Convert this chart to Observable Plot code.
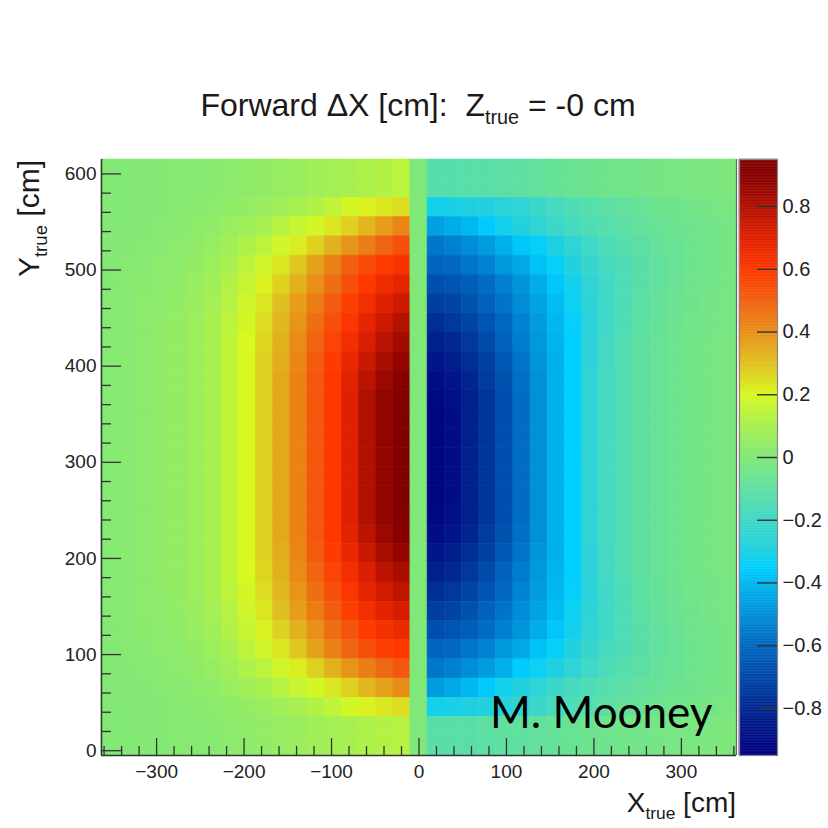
<!DOCTYPE html>
<html><head><meta charset="utf-8">
<script src="https://cdn.jsdelivr.net/npm/d3@7"></script>
<script src="https://cdn.jsdelivr.net/npm/@observablehq/plot@0.6"></script>
<style>
html,body{margin:0;padding:0;background:#fff;}
#wrap{position:relative;width:828px;height:828px;overflow:hidden;font-family:"Liberation Sans",Arial,sans-serif;color:#1a1a1a;}
#wrap svg{position:absolute;overflow:visible;}
.t{position:absolute;white-space:nowrap;line-height:1;}
.sub{font-size:62%;position:relative;top:0.42em;}
</style></head><body><div id="wrap"></div>
<script>
// ---- data ----
const xLimits = [-363, 363];   // cm, histogram x range (37 bins)
const yLimits = [-5, 615];     // cm, histogram y range (31 bins)
const nXBins = 37;
const yRowCenters = [605,585,565,545,525,505,485,465,445,425,405,385,365,345,325,305,285,265,245,225,205,185,165,145,125,105,85,65,45,25,5];

// left half (x < 0), 18 columns from x=-353 to x=-20, rows top -> bottom
const dxLeft = [
 [0.005,0.005,0.01,0.01,0.015,0.015,0.02,0.03,0.035,0.045,0.055,0.065,0.08,0.09,0.1,0.11,0.12,0.14],
 [0.005,0.005,0.01,0.01,0.015,0.015,0.02,0.03,0.035,0.045,0.055,0.065,0.08,0.09,0.1,0.11,0.12,0.14],
 [0.005,0.005,0.01,0.01,0.015,0.02,0.03,0.04,0.05,0.065,0.08,0.1,0.12,0.15,0.19,0.21,0.23,0.25],
 [0.005,0.01,0.01,0.015,0.02,0.03,0.04,0.06,0.08,0.1,0.13,0.16,0.19,0.23,0.27,0.32,0.37,0.42],
 [0.01,0.01,0.015,0.02,0.03,0.04,0.055,0.08,0.11,0.14,0.18,0.22,0.27,0.33,0.39,0.44,0.49,0.54],
 [0.01,0.015,0.02,0.03,0.035,0.05,0.07,0.1,0.14,0.18,0.23,0.29,0.36,0.43,0.5,0.55,0.59,0.62],
 [0.01,0.015,0.025,0.03,0.04,0.06,0.08,0.12,0.16,0.21,0.27,0.33,0.4,0.47,0.54,0.6,0.65,0.68],
 [0.015,0.02,0.03,0.035,0.045,0.065,0.09,0.13,0.18,0.23,0.3,0.37,0.44,0.51,0.58,0.64,0.7,0.74],
 [0.015,0.02,0.03,0.04,0.05,0.07,0.1,0.14,0.19,0.25,0.32,0.39,0.47,0.54,0.61,0.68,0.74,0.79],
 [0.015,0.02,0.03,0.04,0.05,0.07,0.1,0.15,0.2,0.26,0.33,0.41,0.49,0.57,0.64,0.71,0.78,0.83],
 [0.015,0.02,0.03,0.04,0.05,0.07,0.1,0.15,0.2,0.27,0.34,0.42,0.51,0.59,0.67,0.75,0.82,0.87],
 [0.015,0.02,0.03,0.04,0.05,0.07,0.1,0.15,0.2,0.27,0.35,0.43,0.52,0.6,0.69,0.78,0.85,0.9],
 [0.015,0.02,0.03,0.04,0.05,0.07,0.1,0.15,0.2,0.27,0.35,0.43,0.52,0.6,0.7,0.8,0.87,0.92],
 [0.015,0.02,0.03,0.04,0.05,0.07,0.1,0.15,0.2,0.27,0.35,0.43,0.52,0.6,0.7,0.8,0.87,0.93],
 [0.015,0.02,0.03,0.04,0.05,0.07,0.1,0.15,0.2,0.27,0.35,0.43,0.52,0.6,0.7,0.8,0.87,0.93],
 [0.015,0.02,0.03,0.04,0.05,0.07,0.1,0.15,0.2,0.27,0.35,0.43,0.52,0.6,0.7,0.8,0.87,0.93],
 [0.015,0.02,0.03,0.04,0.05,0.07,0.1,0.15,0.2,0.27,0.35,0.43,0.52,0.6,0.7,0.8,0.87,0.93],
 [0.015,0.02,0.03,0.04,0.05,0.07,0.1,0.15,0.2,0.27,0.35,0.43,0.52,0.6,0.7,0.8,0.87,0.93],
 [0.015,0.02,0.03,0.04,0.05,0.07,0.1,0.15,0.2,0.27,0.35,0.43,0.52,0.6,0.7,0.8,0.87,0.92],
 [0.015,0.02,0.03,0.04,0.05,0.07,0.1,0.15,0.2,0.27,0.35,0.43,0.52,0.6,0.69,0.78,0.85,0.9],
 [0.015,0.02,0.03,0.04,0.05,0.07,0.1,0.15,0.2,0.27,0.34,0.42,0.51,0.59,0.67,0.75,0.82,0.87],
 [0.015,0.02,0.03,0.04,0.05,0.07,0.1,0.15,0.2,0.26,0.33,0.41,0.49,0.57,0.64,0.71,0.78,0.82],
 [0.015,0.02,0.03,0.04,0.05,0.07,0.1,0.14,0.19,0.25,0.32,0.39,0.47,0.54,0.61,0.68,0.73,0.77],
 [0.015,0.02,0.03,0.035,0.045,0.065,0.09,0.13,0.18,0.23,0.3,0.37,0.44,0.51,0.58,0.64,0.69,0.72],
 [0.01,0.015,0.025,0.03,0.04,0.06,0.08,0.12,0.16,0.21,0.27,0.33,0.4,0.47,0.53,0.59,0.63,0.66],
 [0.01,0.015,0.02,0.03,0.035,0.05,0.07,0.1,0.14,0.18,0.23,0.29,0.36,0.43,0.49,0.54,0.58,0.6],
 [0.01,0.01,0.015,0.02,0.03,0.04,0.055,0.08,0.11,0.14,0.18,0.22,0.27,0.33,0.39,0.44,0.48,0.52],
 [0.005,0.01,0.01,0.015,0.02,0.03,0.04,0.06,0.08,0.1,0.13,0.16,0.19,0.23,0.27,0.32,0.36,0.41],
 [0.005,0.005,0.01,0.01,0.015,0.02,0.03,0.04,0.05,0.065,0.08,0.1,0.12,0.15,0.19,0.21,0.23,0.25],
 [0.005,0.005,0.01,0.01,0.015,0.015,0.02,0.03,0.035,0.045,0.055,0.065,0.08,0.09,0.1,0.11,0.12,0.13],
 [0.005,0.005,0.01,0.01,0.015,0.015,0.02,0.03,0.035,0.045,0.055,0.065,0.08,0.09,0.1,0.11,0.12,0.13]
];

// central column (x around 0)
const dxCenter = [0,0,0,0,0,0,0,0,0,0,0,0,0,0,0,0,0,0,0,0,0,0,0,0,0,0,0,0,0,0,0];

// right half (x > 0), 18 columns from x=+20 to x=+353, rows top -> bottom
const dxRight = [
 [-0.13,-0.13,-0.12,-0.12,-0.11,-0.1,-0.09,-0.08,-0.07,-0.06,-0.05,-0.045,-0.04,-0.03,-0.025,-0.02,-0.015,-0.01],
 [-0.13,-0.13,-0.12,-0.12,-0.11,-0.1,-0.09,-0.08,-0.07,-0.06,-0.05,-0.045,-0.04,-0.03,-0.025,-0.02,-0.015,-0.01],
 [-0.32,-0.31,-0.3,-0.29,-0.27,-0.25,-0.21,-0.18,-0.15,-0.13,-0.11,-0.09,-0.075,-0.06,-0.05,-0.04,-0.03,-0.02],
 [-0.46,-0.43,-0.4,-0.36,-0.32,-0.29,-0.25,-0.21,-0.18,-0.15,-0.13,-0.11,-0.09,-0.075,-0.06,-0.05,-0.04,-0.03],
 [-0.56,-0.54,-0.51,-0.47,-0.42,-0.37,-0.34,-0.3,-0.25,-0.2,-0.16,-0.13,-0.11,-0.085,-0.07,-0.055,-0.04,-0.03],
 [-0.61,-0.6,-0.57,-0.53,-0.48,-0.44,-0.38,-0.34,-0.29,-0.23,-0.18,-0.15,-0.12,-0.09,-0.07,-0.055,-0.04,-0.03],
 [-0.68,-0.66,-0.63,-0.59,-0.54,-0.49,-0.43,-0.37,-0.32,-0.25,-0.2,-0.15,-0.12,-0.09,-0.07,-0.05,-0.04,-0.03],
 [-0.73,-0.71,-0.67,-0.62,-0.57,-0.51,-0.45,-0.39,-0.33,-0.26,-0.2,-0.15,-0.11,-0.085,-0.065,-0.05,-0.035,-0.025],
 [-0.78,-0.75,-0.71,-0.66,-0.6,-0.53,-0.47,-0.4,-0.34,-0.27,-0.2,-0.15,-0.11,-0.08,-0.06,-0.045,-0.035,-0.025],
 [-0.83,-0.8,-0.75,-0.69,-0.62,-0.55,-0.48,-0.41,-0.35,-0.26,-0.19,-0.14,-0.1,-0.075,-0.055,-0.04,-0.03,-0.02],
 [-0.87,-0.84,-0.78,-0.72,-0.65,-0.57,-0.49,-0.42,-0.35,-0.26,-0.19,-0.14,-0.1,-0.075,-0.055,-0.04,-0.03,-0.02],
 [-0.9,-0.87,-0.81,-0.74,-0.67,-0.58,-0.5,-0.42,-0.35,-0.25,-0.18,-0.14,-0.1,-0.075,-0.055,-0.04,-0.03,-0.02],
 [-0.92,-0.89,-0.83,-0.76,-0.68,-0.59,-0.5,-0.42,-0.35,-0.25,-0.18,-0.14,-0.1,-0.075,-0.055,-0.04,-0.03,-0.02],
 [-0.93,-0.9,-0.83,-0.76,-0.68,-0.59,-0.5,-0.42,-0.35,-0.25,-0.18,-0.14,-0.1,-0.075,-0.055,-0.04,-0.03,-0.02],
 [-0.93,-0.9,-0.83,-0.76,-0.68,-0.59,-0.5,-0.42,-0.35,-0.25,-0.18,-0.14,-0.1,-0.075,-0.055,-0.04,-0.03,-0.02],
 [-0.93,-0.9,-0.83,-0.76,-0.68,-0.59,-0.5,-0.42,-0.35,-0.25,-0.18,-0.14,-0.1,-0.075,-0.055,-0.04,-0.03,-0.02],
 [-0.93,-0.9,-0.83,-0.76,-0.68,-0.59,-0.5,-0.42,-0.35,-0.25,-0.18,-0.14,-0.1,-0.075,-0.055,-0.04,-0.03,-0.02],
 [-0.93,-0.9,-0.83,-0.76,-0.68,-0.59,-0.5,-0.42,-0.35,-0.25,-0.18,-0.14,-0.1,-0.075,-0.055,-0.04,-0.03,-0.02],
 [-0.92,-0.89,-0.83,-0.76,-0.68,-0.59,-0.5,-0.42,-0.35,-0.25,-0.18,-0.14,-0.1,-0.075,-0.055,-0.04,-0.03,-0.02],
 [-0.9,-0.87,-0.81,-0.74,-0.67,-0.58,-0.5,-0.42,-0.35,-0.25,-0.18,-0.14,-0.1,-0.075,-0.055,-0.04,-0.03,-0.02],
 [-0.87,-0.84,-0.78,-0.72,-0.65,-0.57,-0.49,-0.42,-0.35,-0.26,-0.19,-0.14,-0.1,-0.075,-0.055,-0.04,-0.03,-0.02],
 [-0.83,-0.8,-0.75,-0.69,-0.62,-0.55,-0.48,-0.41,-0.35,-0.26,-0.19,-0.14,-0.1,-0.075,-0.055,-0.04,-0.03,-0.02],
 [-0.78,-0.75,-0.71,-0.66,-0.6,-0.53,-0.47,-0.4,-0.34,-0.27,-0.2,-0.15,-0.11,-0.08,-0.06,-0.045,-0.035,-0.025],
 [-0.73,-0.71,-0.67,-0.62,-0.57,-0.51,-0.45,-0.39,-0.33,-0.26,-0.2,-0.15,-0.11,-0.085,-0.065,-0.05,-0.035,-0.025],
 [-0.68,-0.66,-0.63,-0.59,-0.54,-0.49,-0.43,-0.37,-0.32,-0.25,-0.2,-0.15,-0.12,-0.09,-0.07,-0.05,-0.04,-0.03],
 [-0.61,-0.6,-0.57,-0.53,-0.48,-0.44,-0.38,-0.34,-0.29,-0.23,-0.18,-0.15,-0.12,-0.09,-0.07,-0.055,-0.04,-0.03],
 [-0.56,-0.54,-0.51,-0.47,-0.42,-0.36,-0.33,-0.3,-0.25,-0.2,-0.16,-0.13,-0.11,-0.085,-0.07,-0.055,-0.04,-0.03],
 [-0.47,-0.44,-0.4,-0.36,-0.32,-0.29,-0.25,-0.21,-0.18,-0.15,-0.13,-0.11,-0.09,-0.075,-0.06,-0.05,-0.04,-0.03],
 [-0.32,-0.31,-0.3,-0.29,-0.27,-0.25,-0.21,-0.18,-0.15,-0.13,-0.11,-0.09,-0.075,-0.06,-0.05,-0.04,-0.03,-0.02],
 [-0.12,-0.12,-0.12,-0.11,-0.1,-0.1,-0.09,-0.08,-0.07,-0.06,-0.05,-0.045,-0.04,-0.03,-0.025,-0.02,-0.015,-0.01],
 [-0.12,-0.12,-0.12,-0.11,-0.1,-0.1,-0.09,-0.08,-0.07,-0.06,-0.05,-0.045,-0.04,-0.03,-0.025,-0.02,-0.015,-0.01]
];

// colour palette (value -> colour)
const paletteStops  = [-0.95,-0.8,-0.7,-0.6,-0.5,-0.4,-0.35,-0.3,-0.2,-0.1,0,0.1,0.2,0.3,0.4,0.5,0.6,0.7,0.8,0.9,0.95];
const paletteColors = ["#000080","#002890","#0048a8","#0068c0","#0090d8","#00b8f0","#00d0ff","#20d0e0","#40d8c8","#60e0a0","#80e878","#a8f050","#d8f820","#e0c020","#e89018","#f06010","#ff3800","#e02000","#b01000","#880000","#800000"];
const zLimits = [-0.95, 0.95];

// tick values
const xMajorTicks = [-300,-200,-100,0,100,200,300];
const xMinorTicks = [-360,-340,-320,-280,-260,-240,-220,-180,-160,-140,-120,-80,-60,-40,-20,20,40,60,80,120,140,160,180,220,240,260,280,320,340,360];
const yMajorTicks = [0,100,200,300,400,500,600];
const yMinorTicks = [20,40,60,80,120,140,160,180,220,240,260,280,320,340,360,380,420,440,460,480,520,540,560,580];
const zTicks = [-0.8,-0.6,-0.4,-0.2,0,0.2,0.4,0.6,0.8];

// ---- build table of cells ----
const binW = (xLimits[1] - xLimits[0]) / nXBins;
const cells = [];
yRowCenters.forEach((yc, i) => {
  const row = [...dxLeft[i], dxCenter[i], ...dxRight[i]];
  row.forEach((v, j) => {
    cells.push({x1: xLimits[0] + j * binW, x2: xLimits[0] + (j + 1) * binW, y1: yc - 10, y2: yc + 10, v});
  });
});

const W = 828, H = 828;
const mL = 101, mR = 92, mT = 159, mB = 73;
const frameW = W - mL - mR, frameH = H - mT - mB;
const colorScale = {type: "linear", domain: paletteStops, range: paletteColors, clamp: true};
const font = "'Liberation Sans', Arial, sans-serif";

const main = Plot.plot({
  width: W, height: H,
  marginLeft: mL, marginRight: mR, marginTop: mT, marginBottom: mB,
  x: {domain: xLimits, ticks: xMajorTicks, tickSize: 0, tickPadding: 9, label: null},
  y: {domain: yLimits, ticks: yMajorTicks, tickSize: 0, tickPadding: 5, label: null},
  color: colorScale,
  style: {fontFamily: font, fontSize: "19px", color: "#222", background: "transparent"},
  marks: [
    Plot.rect(cells, {x1: "x1", x2: "x2", y1: "y1", y2: "y2", fill: "v", stroke: "v", strokeWidth: 0.6}),
    Plot.ruleX(xMajorTicks, {x: d => d, insetTop: frameH - 17, stroke: "#333", strokeWidth: 1.3}),
    Plot.ruleX(xMinorTicks, {x: d => d, insetTop: frameH - 9, stroke: "#333", strokeWidth: 1.3}),
    Plot.ruleY(yMajorTicks, {y: d => d, insetRight: frameW - 20, stroke: "#333", strokeWidth: 1.3}),
    Plot.ruleY(yMinorTicks, {y: d => d, insetRight: frameW - 10, stroke: "#333", strokeWidth: 1.3}),
    Plot.ruleX([xLimits[0]], {stroke: "#333", strokeWidth: 1.5}),
    Plot.ruleX([xLimits[1]], {stroke: "#666", strokeWidth: 1.2}),
    Plot.ruleY([yLimits[0]], {stroke: "#333", strokeWidth: 1.5})
  ]
});

const zStep = 0.005;
const zSteps = d3.range(zLimits[0], zLimits[1] - 1e-9, zStep);
const barW = 38;
const bar = Plot.plot({
  width: 92, height: H,
  marginLeft: 1, marginRight: 92 - 1 - barW, marginTop: mT, marginBottom: mB,
  x: {domain: [0, 1], axis: null},
  y: {domain: zLimits, axis: null},
  color: colorScale,
  style: {fontFamily: font, fontSize: "20px", color: "#222", background: "transparent"},
  marks: [
    Plot.rect(zSteps, {x1: 0, x2: 1, y1: d => d, y2: d => d + zStep, fill: d => d + zStep / 2, stroke: d => d + zStep / 2, strokeWidth: 0.5}),
    Plot.frame({stroke: "#888", strokeWidth: 1.2}),
    Plot.ruleY(zTicks, {y: d => d, insetLeft: barW - 20, stroke: "#333", strokeWidth: 1.4}),
    Plot.text(zTicks, {y: d => d, x: 1, dx: 5, text: d => (d < 0 ? "\u2212" : "") + Math.abs(d).toString(), textAnchor: "start", fontSize: 20, fill: "#222"})
  ]
});

const wrap = document.getElementById("wrap");
main.style.left = "0px"; main.style.top = "0px";
bar.style.left = "738px"; bar.style.top = "0px";
wrap.appendChild(main);
wrap.appendChild(bar);

function addText(html, style) {
  const d = document.createElement("div");
  d.className = "t";
  d.innerHTML = html;
  Object.assign(d.style, style);
  wrap.appendChild(d);
  return d;
}
addText('Forward \u0394X [cm]:&nbsp; Z<span class="sub">true</span> = -0 cm',
  {left: "418px", top: "89px", fontSize: "32px", transform: "translateX(-50%)", color: "#1a1a1a"});
addText('Y<span class="sub">true</span> [cm]',
  {left: "14px", top: "360px", width: "200px", textAlign: "right", fontSize: "30px", transformOrigin: "0 0", transform: "rotate(-90deg)"});
addText('X<span class="sub">true</span> [cm]',
  {right: "92px", top: "789px", fontSize: "28px"});
addText('M. Mooney',
  {left: "490px", top: "689px", fontSize: "44px", fontFamily: "Lato, 'Open Sans', sans-serif", color: "#000"});
</script></body></html>
